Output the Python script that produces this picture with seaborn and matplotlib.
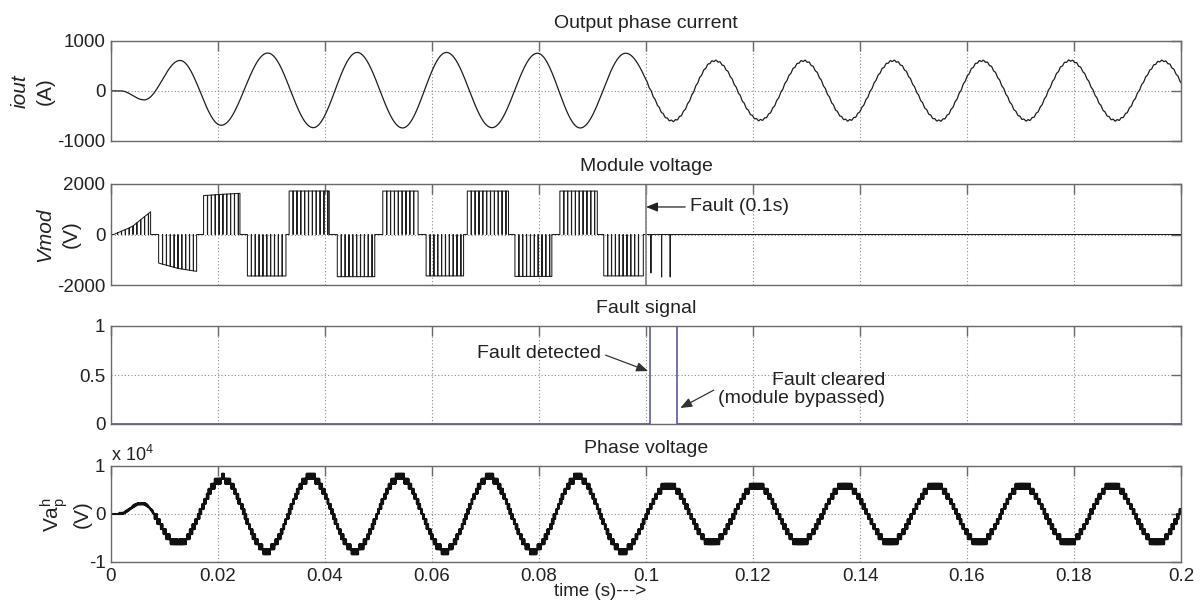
import numpy as np
import pandas as pd
import matplotlib
matplotlib.use("Agg")
import matplotlib.pyplot as plt
import seaborn as sns

# ---------------- data ----------------
x_ticks = [0, 0.02, 0.04, 0.06, 0.08, 0.1, 0.12, 0.14, 0.16, 0.18, 0.2]
x_tick_labels = ["0", "0.02", "0.04", "0.06", "0.08", "0.1", "0.12", "0.14", "0.16", "0.18", "0.2"]

# Output phase current: times and values of successive extrema (A)
iout_t = [0, 0.0018, 0.0062, 0.0129, 0.0206, 0.0293, 0.0378, 0.0460, 0.0545, 0.0627,
          0.0712, 0.0797, 0.0877, 0.0962, 0.1050, 0.1129, 0.1213, 0.1295, 0.1378,
          0.1462, 0.1548, 0.1628, 0.1712, 0.1793, 0.1878, 0.1965, 0.2050]
iout_v = [0, 0, -180, 606, -686, 754, -734, 766, -740, 766, -734, 750, -740, 750,
          -600, 600, -585, 600, -590, 600, -595, 600, -590, 605, -590, 600, -600]
iout_ripple_amp = 14      # small ripple visible after the fault (A)
iout_ripple_freq = 1320   # Hz

# Module voltage: conduction blocks (start, end, level at start / middle / end)
vmod_start = [0.0005, 0.0089, 0.0173, 0.0255, 0.0333, 0.0423, 0.0508, 0.0589, 0.0666, 0.0755, 0.0839, 0.0921]
vmod_end = [0.0074, 0.0160, 0.0241, 0.0327, 0.0408, 0.0493, 0.0574, 0.0659, 0.0743, 0.0824, 0.0909, 0.0995]
vmod_lvl_start = [0, -1130, 1540, -1643, 1722, -1670, 1720, -1640, 1720, -1660, 1720, -1640]
vmod_lvl_mid = [310, -1340, 1590, -1643, 1722, -1670, 1720, -1640, 1720, -1660, 1720, -1640]
vmod_lvl_end = [900, -1460, 1630, -1643, 1722, -1670, 1720, -1640, 1720, -1660, 1720, -1640]
vmod_notch_period = 0.00072
vmod_notch_width = 0.00004
# isolated pulses after the fault
post_pulse_t = [0.1009, 0.1029, 0.1045]
post_pulse_v = [-1520, -1680, -1680]

# Fault signal
fault_on = 0.1007
fault_off = 0.1058

# Phase voltage: extrema of the reference sine (V)
vph_t = [0, 0.0015, 0.0057, 0.0126, 0.0209, 0.0291, 0.0373, 0.0456, 0.0540, 0.0624,
         0.0707, 0.0789, 0.0873, 0.0956, 0.1042, 0.1123, 0.1207, 0.1288, 0.1372,
         0.1456, 0.1540, 0.1623, 0.1704, 0.1789, 0.1872, 0.1955, 0.2038]
vph_v = [0, 0, 2230, -6300, 7400, -7640, 7700, -7640, 7650, -7600, 7650, -7600, 7650,
         -7650, 6050, -6100, 6050, -6100, 6050, -6100, 6050, -6100, 6050, -6100, 6050,
         -6100, 6050]
vph_step = 1050           # staircase level step (V)
vph_step_startup = 250    # finer steps during start-up
vph_carrier = 6000        # Hz


def half_cosine(tk, vk, t):
    tk = np.asarray(tk, float)
    vk = np.asarray(vk, float)
    idx = np.clip(np.searchsorted(tk, t, side="right") - 1, 0, len(tk) - 2)
    t0, t1 = tk[idx], tk[idx + 1]
    v0, v1 = vk[idx], vk[idx + 1]
    ph = np.clip((t - t0) / (t1 - t0), 0, 1)
    return (v0 + v1) / 2 + (v0 - v1) / 2 * np.cos(np.pi * ph)


# ---- build series ----
t_i = np.linspace(0, 0.2, 20001)
i_out = half_cosine(iout_t, iout_v, t_i)
i_out = i_out + np.where(t_i > 0.1, iout_ripple_amp * np.sin(2 * np.pi * iout_ripple_freq * t_i), 0)

vm_t, vm_v = [0.0], [0.0]
for ts, te, ls, lm, le in zip(vmod_start, vmod_end, vmod_lvl_start, vmod_lvl_mid, vmod_lvl_end):
    def lev(x):
        return np.interp(x, [ts, (ts + te) / 2, te], [ls, lm, le])
    vm_t += [ts, ts]
    vm_v += [0, lev(ts)]
    for tn in np.arange(ts + vmod_notch_period, te - 0.0002, vmod_notch_period):
        vm_t += [tn, tn, tn + vmod_notch_width, tn + vmod_notch_width]
        vm_v += [lev(tn), 0, 0, lev(tn + vmod_notch_width)]
    vm_t += [te, te]
    vm_v += [lev(te), 0]
for tp, vp in zip(post_pulse_t, post_pulse_v):
    vm_t += [tp, tp, tp + vmod_notch_width, tp + vmod_notch_width]
    vm_v += [0, vp, vp, 0]
vm_t += [0.2]
vm_v += [0]

fs_t = [0, fault_on, fault_on, fault_off, fault_off, 0.2]
fs_v = [0, 0, 1, 1, 0, 0]

t_p = np.linspace(0, 0.2, 100001)
ref = half_cosine(vph_t, vph_v, t_p)
delta = np.where(t_p < 0.008, vph_step_startup, vph_step)
n = np.floor(ref / delta)
frac = ref / delta - n
carrier = np.abs(((t_p * vph_carrier) % 1.0) * 2 - 1)
v_ph = delta * (n + (frac > carrier))

# ---------------- plotting ----------------
sns.set_style("white")
plt.rcParams["font.family"] = ["Liberation Sans", "DejaVu Sans"]
plt.rcParams["mathtext.fontset"] = "custom"
plt.rcParams["mathtext.rm"] = "Liberation Sans"
plt.rcParams["mathtext.it"] = "Liberation Sans:italic"
plt.rcParams["mathtext.default"] = "regular"
plt.rcParams["axes.unicode_minus"] = False

spine_c = "#6a6a6a"
text_c = "#222222"
line_c = "#1e1e1e"

fig = plt.figure(figsize=(12.02, 6.03), dpi=100)
L, W = 111 / 1202, 1070 / 1202
ax1 = fig.add_axes([L, 1 - 141 / 603, W, 100.3 / 603])
ax2 = fig.add_axes([L, 1 - 285 / 603, W, 101 / 603])
ax3 = fig.add_axes([L, 1 - 424 / 603, W, 98 / 603])
ax4 = fig.add_axes([L, 1 - 562 / 603, W, 96 / 603])
axes = [ax1, ax2, ax3, ax4]

sns.lineplot(x=t_i, y=i_out, ax=ax1, color=line_c, linewidth=0.9, estimator=None, sort=False)
sns.lineplot(x=np.array(vm_t), y=np.array(vm_v), ax=ax2, color=line_c, linewidth=0.75,
             estimator=None, sort=False)
sns.lineplot(x=np.array(fs_t), y=np.array(fs_v), ax=ax3, color="#4a4a96", linewidth=1.1,
             estimator=None, sort=False)
sns.lineplot(x=t_p, y=v_ph, ax=ax4, color="#111111", linewidth=1.5, estimator=None, sort=False)

ylims = [(-1000, 1000), (-2000, 2000), (0, 1), (-1e4, 1e4)]
yticks = [[-1000, 0, 1000], [-2000, 0, 2000], [0, 0.5, 1], [-1e4, 0, 1e4]]
yticklabels = [["-1000", "0", "1000"], ["-2000", "0", "2000"], ["0", "0.5", "1"], ["-1", "0", "1"]]
titles = ["Output phase current", "Module voltage", "Fault signal", "Phase voltage"]

for ax, yl, yt, ytl, ti in zip(axes, ylims, yticks, yticklabels, titles):
    ax.set_xlim(0, 0.2)
    ax.set_ylim(*yl)
    ax.set_xticks(x_ticks)
    ax.set_yticks(yt)
    ax.set_yticklabels(ytl)
    ax.set_xticklabels(x_tick_labels)
    ax.grid(True, linestyle=(0, (1, 2)), color="#8c8c8c", linewidth=0.8)
    ax.tick_params(direction="in", length=7, width=1.0, colors=spine_c, labelcolor=text_c,
                   labelsize=13.5, top=True, right=True, pad=4)
    for s in ax.spines.values():
        s.set_color(spine_c)
        s.set_linewidth(1.0)
    ax.set_title(ti, fontsize=14, color=text_c, pad=9.5)
    ax.set_xlabel("")
    ax.set_ylabel("")
for ax in [ax1, ax2, ax3]:
    ax.tick_params(labelbottom=False)

ax4.set_xlabel("time (s)--->", fontsize=13.5, color=text_c, labelpad=1)
ax4.xaxis.set_label_coords((600 - 111) / 1070, -0.22)
ax4.text(0.0, 1.01, "x 10$^4$", transform=ax4.transAxes, ha="left", va="bottom",
         fontsize=13, color=text_c)

# y labels
def fy(ax):
    b = ax.get_position()
    return b.y0 + b.height / 2

fig.text(20 / 1202, fy(ax1), "iout", rotation=90, ha="center", va="center", fontsize=15,
         style="italic", color=text_c)
fig.text(45 / 1202, fy(ax1), "(A)", rotation=90, ha="center", va="center", fontsize=15, color=text_c)
fig.text(45 / 1202, fy(ax2), "Vmod", rotation=90, ha="center", va="center", fontsize=15,
         style="italic", color=text_c)
fig.text(71 / 1202, fy(ax2), "(V)", rotation=90, ha="center", va="center", fontsize=15, color=text_c)
fig.text(54 / 1202, fy(ax4), "Va$_p^h$", rotation=90, ha="center", va="center", fontsize=15, color=text_c)
fig.text(82 / 1202, fy(ax4), "(V)", rotation=90, ha="center", va="center", fontsize=15, color=text_c)

# fault marker in module voltage
ax2.axvline(0.1, color="#8a8a8a", linewidth=1.3)
ax2.annotate("Fault (0.1s)", xy=(0.1, 1090), xytext=(0.1082, 1090), ha="left", va="center",
             fontsize=14, color=text_c,
             arrowprops=dict(arrowstyle="-|>,head_length=0.5,head_width=0.2", color="#222",
                             lw=0.9, shrinkA=1, shrinkB=0, relpos=(0, 0.5)))

ax3.annotate("Fault detected", xy=(0.1004, 0.54), xytext=(0.0916, 0.72), ha="right", va="center",
             fontsize=14, color=text_c,
             arrowprops=dict(arrowstyle="-|>,head_length=0.5,head_width=0.2", color="#333",
                             lw=0.9, shrinkA=1, shrinkB=0, relpos=(1, 0.5)))
ax3.annotate("Fault cleared\n(module bypassed)", xy=(0.1064, 0.163), xytext=(0.1447, 0.352),
             ha="right", va="center", multialignment="right", fontsize=14, color=text_c,
             linespacing=1.1,
             arrowprops=dict(arrowstyle="-|>,head_length=0.5,head_width=0.2", color="#333",
                             lw=0.9, shrinkA=1, shrinkB=0, relpos=(0, 0.55)))

fig.savefig("out.png", dpi=100)
